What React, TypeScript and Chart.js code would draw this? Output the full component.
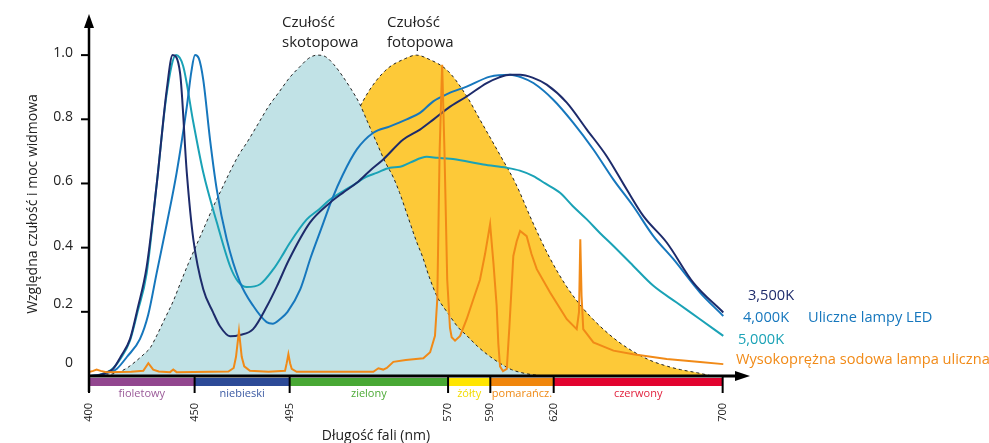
import React, { useEffect, useRef } from "react";
import { Chart, registerables } from "chart.js";

Chart.register(...registerables);

const FONT = '"Open Sans", "DejaVu Sans", sans-serif';

// ---- axis ticks ----
const xTickValues = [400, 450, 495, 570, 590, 620, 700];
const yTickValues = [1.0, 0.8, 0.6, 0.4, 0.2, 0];
const yTickLabels = ["1.0", "0.8", "0.6", "0.4", "0.2", "0"];

// ---- colour bands under the wavelength axis ----
const bandLabels = ["fioletowy", "niebieski", "zielony", "żółty", "pomarańcz.", "czerwony"];
const bandFrom = [400, 450, 495, 570, 590, 620];
const bandTo = [450, 495, 570, 590, 620, 700];

// ---- series: [wavelength nm, relative value] ----
const scotopic: [number, number][] = [
  [405, 0], [410, 0.005], [414, 0.012], [418, 0.025], [422, 0.045], [426, 0.068], [429, 0.088],
  [432, 0.125], [436, 0.18], [440, 0.235], [443, 0.285], [447, 0.35], [451, 0.41], [455, 0.47],
  [459, 0.53], [463, 0.585], [467, 0.64], [471, 0.69], [475, 0.73], [480, 0.785], [485, 0.84],
  [490, 0.885], [495, 0.93], [500, 0.965], [504, 0.99], [508, 1.0], [512, 0.995], [516, 0.97],
  [520, 0.935], [524, 0.895], [528, 0.85], [532, 0.79], [536, 0.73], [540, 0.67], [544, 0.62],
  [547, 0.572], [551, 0.496], [555, 0.42], [558, 0.37], [561, 0.31], [565, 0.245], [570, 0.195],
  [575, 0.15], [579, 0.125], [584, 0.092], [590, 0.06], [595, 0.038], [600, 0.02], [605, 0.01],
  [610, 0.004], [615, 0],
];

const photopic: [number, number][] = [
  [430, 0], [440, 0.02], [450, 0.04], [460, 0.06], [470, 0.09], [480, 0.14], [490, 0.21],
  [500, 0.32], [510, 0.5], [520, 0.71], [530, 0.86], [540, 0.95], [550, 0.99], [555, 1.0],
  [560, 0.99], [570, 0.95], [579, 0.87], [585, 0.8], [595, 0.684], [602, 0.6], [610, 0.48],
  [618, 0.37], [626, 0.28], [634, 0.21], [642, 0.155], [650, 0.11], [658, 0.075], [666, 0.048],
  [674, 0.03], [680, 0.02], [688, 0.01], [695, 0],
];

const led3500: [number, number][] = [
  [400, 0], [405, 0.003], [408, 0.01], [411.4, 0.022], [415, 0.06], [419.4, 0.115], [423, 0.21],
  [427.3, 0.34], [432.1, 0.6], [436.8, 0.892], [439.6, 1.0], [443.1, 0.945], [446.3, 0.634],
  [449.4, 0.426], [454.1, 0.27], [458.7, 0.199], [462, 0.155], [466.8, 0.124], [471.5, 0.128],
  [477.7, 0.146], [484.3, 0.218], [489, 0.28], [494.5, 0.36], [504.6, 0.478], [514.1, 0.54],
  [520, 0.57], [526.8, 0.602], [533, 0.64], [539.3, 0.675], [548.8, 0.737], [556.7, 0.768],
  [563, 0.799], [570, 0.835], [578.8, 0.871], [588.3, 0.913], [594, 0.93], [599.3, 0.939],
  [604.1, 0.939], [610, 0.93], [616.7, 0.908], [626.2, 0.852], [635.7, 0.768], [645.1, 0.685],
  [654.6, 0.581], [662.5, 0.498], [673.5, 0.416], [686.1, 0.291], [700.3, 0.198],
];

const led4000: [number, number][] = [
  [400, 0], [406, 0.004], [410, 0.012], [413.1, 0.022], [418, 0.06], [424.1, 0.115], [428, 0.19],
  [432.1, 0.323], [437, 0.48], [441.5, 0.634], [446.3, 0.839], [448.5, 0.95], [450.2, 1.0],
  [452, 0.99], [454.1, 0.923], [457.3, 0.737], [460.5, 0.581], [465.2, 0.426], [471.5, 0.292],
  [477.8, 0.218], [484.1, 0.168], [487, 0.163], [490.4, 0.177], [494, 0.2], [500, 0.27],
  [505, 0.37], [510, 0.46], [515, 0.55], [520, 0.625], [526.8, 0.706], [534.6, 0.758],
  [542.5, 0.778], [550.4, 0.8], [556.7, 0.82], [563, 0.856], [570, 0.88], [578.8, 0.902],
  [589.9, 0.933], [599.3, 0.939], [605, 0.93], [610.4, 0.913], [619.8, 0.861], [629.3, 0.789],
  [638.8, 0.706], [648.3, 0.612], [657.7, 0.529], [667.2, 0.436], [676.7, 0.364],
  [689.3, 0.26], [700.3, 0.187],
];

const led5000: [number, number][] = [
  [400, 0], [405, 0.004], [410.7, 0.02], [415, 0.055], [419.4, 0.11], [423, 0.2], [427.3, 0.32],
  [432.1, 0.6], [436.8, 0.88], [441.2, 1.0], [444.6, 0.965], [449.4, 0.79], [454.1, 0.634],
  [460.5, 0.479], [466.8, 0.342], [470.5, 0.295], [474.7, 0.277], [481, 0.286], [487.3, 0.333],
  [491, 0.37], [495.2, 0.416], [503.1, 0.488], [509, 0.52], [514.1, 0.55], [520, 0.575],
  [526.8, 0.602], [531, 0.62], [536.2, 0.633], [542.5, 0.649], [547.3, 0.652], [552, 0.665],
  [559.9, 0.683], [565, 0.68], [571, 0.677], [578, 0.67], [586.7, 0.659], [597.8, 0.649],
  [604, 0.64], [610.4, 0.623], [616, 0.6], [623, 0.571], [629, 0.53], [635.7, 0.488],
  [642, 0.445], [648.3, 0.405], [657.7, 0.343], [667.2, 0.281], [678.2, 0.229], [689.3, 0.177],
  [700.3, 0.125],
];

const sodium: [number, number][] = [
  [400, 0.012], [402, 0.016], [403.6, 0.02], [405.5, 0.016], [408.3, 0.012], [420, 0.013],
  [425.7, 0.016], [428.1, 0.04], [430.4, 0.02], [433, 0.014], [438.4, 0.012], [439.9, 0.02],
  [441.5, 0.012], [466, 0.014], [468.5, 0.025], [469.6, 0.06], [471, 0.14], [472.3, 0.06],
  [473.5, 0.03], [476.2, 0.016], [485, 0.013], [492.8, 0.016], [493.6, 0.04], [494.4, 0.068],
  [495.2, 0.04], [496, 0.022], [498.3, 0.013], [534.6, 0.013], [537, 0.024], [539.3, 0.02],
  [541, 0.025], [544.1, 0.044], [550, 0.05], [558.3, 0.055], [561.5, 0.074], [563.8, 0.125],
  [564.9, 0.24], [566, 0.7], [567.2, 0.97], [568.3, 0.7], [569.6, 0.3], [570.9, 0.15],
  [571.7, 0.121], [573.3, 0.11], [575.7, 0.125], [578.8, 0.177], [582, 0.24], [585.1, 0.3],
  [587.5, 0.38], [589.9, 0.473], [591.5, 0.35], [593, 0.219], [593.8, 0.1], [594.6, 0.03],
  [596, 0.015], [597.8, 0.022], [599, 0.15], [600.9, 0.374], [602.5, 0.42], [604.1, 0.452],
  [607.2, 0.436], [609.5, 0.38], [612, 0.333], [618.3, 0.26], [626.2, 0.177], [630.9, 0.146],
  [632, 0.2], [632.6, 0.426], [633.2, 0.25], [634, 0.146], [638.8, 0.105], [648.3, 0.079],
  [657.7, 0.068], [673.5, 0.053], [689.3, 0.044], [700.3, 0.037],
];

// ---- text ----
const yAxisTitle = "Względna czułość i moc widmowa";
const xAxisTitle = "Długość fali (nm)";
const scotopicLabel = ["Czułość", "skotopowa"];
const photopicLabel = ["Czułość", "fotopowa"];
const seriesLabels = ["3,500K", "4,000K", "5,000K", "Wysokoprężna sodowa lampa uliczna"];
const ledGroupLabel = "Uliczne lampy LED";

// ---- styles ----
const BAND_COLORS = ["#92468f", "#2c4a97", "#48a834", "#ffe500", "#f0860c", "#e2032f"];
const BAND_TEXT = ["#9a5a98", "#3b5aa3", "#4caa36", "#f2dc00", "#ef8a16", "#e2233f"];
const C3500 = "#1d2b6b";
const C4000 = "#1677bd";
const C5000 = "#1aa2b6";
const CNA = "#f18a17";
const BLUE_FILL = "#c1e2e6";
const YELLOW_FILL = "#fdc938";

const toPts = (arr: [number, number][]) => arr.map(([x, y]) => ({ x, y }));

const decorations = {
  id: "decorations",
  afterDraw(chart: any) {
    const ctx: CanvasRenderingContext2D = chart.ctx;
    const xs = chart.scales.x;
    const ys = chart.scales.y;
    const X = (v: number) => xs.getPixelForValue(v);
    const Y = (v: number) => ys.getPixelForValue(v);
    const x0 = X(400);
    const y0 = Y(0);
    const area = chart.chartArea;
    ctx.save();

    // colour bands
    bandFrom.forEach((f, i) => {
      ctx.fillStyle = BAND_COLORS[i];
      ctx.fillRect(X(f), y0 + 2, X(bandTo[i]) - X(f), 8);
    });
    ctx.font = `11px ${FONT}`;
    ctx.textAlign = "center";
    ctx.textBaseline = "middle";
    bandFrom.forEach((f, i) => {
      ctx.fillStyle = BAND_TEXT[i];
      ctx.fillText(bandLabels[i], (X(f) + X(bandTo[i])) / 2, y0 + 18);
    });

    // tick dividers
    ctx.strokeStyle = "#000";
    ctx.lineWidth = 2;
    xTickValues.forEach((v) => {
      ctx.beginPath();
      ctx.moveTo(X(v), y0);
      ctx.lineTo(X(v), y0 + 17);
      ctx.stroke();
    });

    // x tick labels (rotated)
    ctx.fillStyle = "#222";
    ctx.font = `11px ${FONT}`;
    xTickValues.forEach((v) => {
      ctx.save();
      ctx.translate(X(v), y0 + 27);
      ctx.rotate(-Math.PI / 2);
      ctx.textAlign = "right";
      ctx.textBaseline = "middle";
      ctx.fillText(String(v), 0, 0);
      ctx.restore();
    });

    // x axis with arrow
    ctx.lineWidth = 3;
    ctx.beginPath();
    ctx.moveTo(x0 - 1, y0);
    ctx.lineTo(area.right - 10, y0);
    ctx.stroke();
    ctx.fillStyle = "#000";
    ctx.beginPath();
    ctx.moveTo(area.right + 2, y0);
    ctx.lineTo(area.right - 13, y0 - 5);
    ctx.lineTo(area.right - 13, y0 + 5);
    ctx.closePath();
    ctx.fill();

    // y axis with arrow
    ctx.lineWidth = 2.5;
    ctx.beginPath();
    ctx.moveTo(x0, y0 + 16);
    ctx.lineTo(x0, area.top + 10);
    ctx.stroke();
    ctx.beginPath();
    ctx.moveTo(x0, area.top - 1);
    ctx.lineTo(x0 - 5, area.top + 13);
    ctx.lineTo(x0 + 5, area.top + 13);
    ctx.closePath();
    ctx.fill();

    // y ticks and labels
    ctx.lineWidth = 2;
    ctx.font = `14px ${FONT}`;
    ctx.textAlign = "right";
    ctx.textBaseline = "middle";
    ctx.fillStyle = "#222";
    yTickValues.forEach((v, i) => {
      const py = Y(v);
      if (v !== 0) {
        ctx.beginPath();
        ctx.moveTo(x0 - 8, py);
        ctx.lineTo(x0, py);
        ctx.stroke();
      }
      const shift = v === 0 ? -13 : v < 0.3 ? -8 : -2;
      ctx.fillText(yTickLabels[i], x0 - 16, py + shift);
    });

    // axis titles
    ctx.font = `14px ${FONT}`;
    ctx.textAlign = "center";
    ctx.fillStyle = "#222";
    ctx.fillText(xAxisTitle, 376, y0 + 60);
    ctx.save();
    ctx.translate(33, 204);
    ctx.rotate(-Math.PI / 2);
    ctx.fillText(yAxisTitle, 0, 0);
    ctx.restore();

    // curve annotations
    ctx.font = `15px ${FONT}`;
    ctx.textAlign = "left";
    ctx.fillStyle = "#222";
    ctx.fillText(scotopicLabel[0], 282, 23);
    ctx.fillText(scotopicLabel[1], 282, 43);
    ctx.fillText(photopicLabel[0], 387, 23);
    ctx.fillText(photopicLabel[1], 387, 43);

    // series labels at right
    ctx.font = `14.6px ${FONT}`;
    ctx.fillStyle = C3500;
    ctx.fillText(seriesLabels[0], 748, 296);
    ctx.fillStyle = C4000;
    ctx.fillText(seriesLabels[1], 743, 318);
    ctx.fillText(ledGroupLabel, 808, 318);
    ctx.fillStyle = C5000;
    ctx.fillText(seriesLabels[2], 738, 340);
    ctx.fillStyle = CNA;
    ctx.fillText(seriesLabels[3], 736, 360);

    ctx.restore();
  },
};

export default function App() {
  const ref = useRef<HTMLCanvasElement | null>(null);
  useEffect(() => {
    if (!ref.current) return;
    const ledStyle = (color: string) => ({
      borderColor: color,
      borderWidth: 2,
      pointRadius: 0,
      fill: false,
      cubicInterpolationMode: "monotone" as const,
    });
    const chart = new Chart(ref.current, {
      type: "line",
      data: {
        datasets: [
          {
            label: seriesLabels[3],
            data: toPts(sodium),
            borderColor: CNA,
            borderWidth: 2,
            pointRadius: 0,
            tension: 0,
            fill: false,
            order: 0,
          },
          { label: seriesLabels[0], data: toPts(led3500), ...ledStyle(C3500), order: 1 },
          { label: seriesLabels[1], data: toPts(led4000), ...ledStyle(C4000), order: 2 },
          { label: seriesLabels[2], data: toPts(led5000), ...ledStyle(C5000), order: 3 },
          {
            label: scotopicLabel.join(" "),
            data: toPts(scotopic),
            borderColor: "#222",
            borderWidth: 1,
            borderDash: [3, 3],
            backgroundColor: BLUE_FILL,
            pointRadius: 0,
            fill: "origin",
            cubicInterpolationMode: "monotone",
            order: 5,
          },
          {
            label: photopicLabel.join(" "),
            data: toPts(photopic),
            borderColor: "#222",
            borderWidth: 1,
            borderDash: [3, 3],
            backgroundColor: YELLOW_FILL,
            pointRadius: 0,
            fill: "origin",
            cubicInterpolationMode: "monotone",
            order: 6,
          },
        ],
      },
      options: {
        animation: false,
        responsive: false,
        maintainAspectRatio: false,
        devicePixelRatio: 1,
        layout: { padding: { left: 89, right: 241, top: 15, bottom: 67 } },
        scales: {
          x: { type: "linear", min: 400, max: 712, display: false },
          y: { type: "linear", min: 0, max: 1.125, display: false },
        },
        plugins: {
          legend: { display: false },
          tooltip: { enabled: false },
        },
      },
      plugins: [decorations],
    });
    return () => chart.destroy();
  }, []);
  return (
    <div style={{ position: "absolute", left: 0, top: 0, width: 989, height: 443, background: "#fff" }}>
      <canvas ref={ref} width={989} height={443} style={{ display: "block" }} />
    </div>
  );
}
